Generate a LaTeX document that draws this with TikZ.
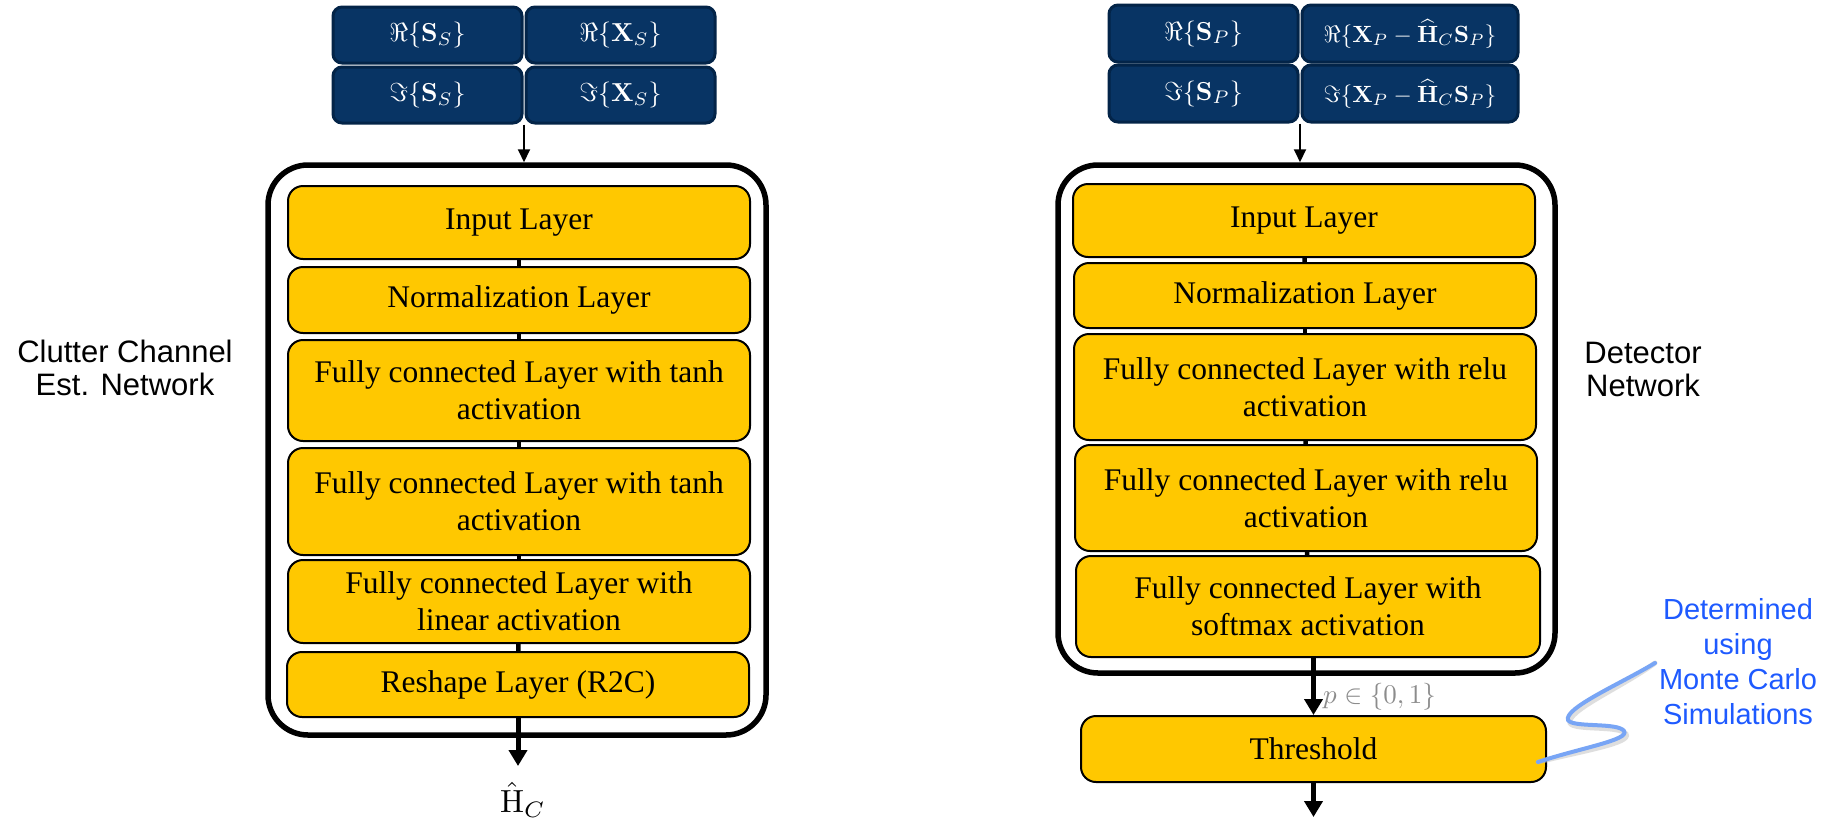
\documentclass[tikz,border=0pt]{standalone}
\usepackage[no-math]{fontspec}
\usepackage{graphicx}
\usepackage{amsmath}
\usetikzlibrary{arrows.meta,calc}
\newfontfamily\timesf{Liberation Serif}
\newfontfamily\arialf{Liberation Sans}
\definecolor{navy}{RGB}{8,52,100}
\definecolor{navyb}{RGB}{3,36,72}
\definecolor{ygold}{RGB}{255,200,0}
\definecolor{bluetxt}{RGB}{30,90,255}
\definecolor{curveblue}{RGB}{120,165,245}
\newcommand{\mbig}[2]{\scalebox{#1}{$#2$}}
\begin{document}
\begin{tikzpicture}[x=1pt,y=-1pt,
  layer/.style={draw=black, line width=2pt, fill=ygold, rounded corners=15pt, inner sep=0pt, align=center, font=\timesf\fontsize{31.5}{37}\selectfont},
  mbox/.style={draw=navyb, line width=3pt, fill=navy, rounded corners=9pt, text=white, inner sep=0pt},
  outerbox/.style={draw=black, line width=5.5pt, rounded corners=40pt, inner sep=0pt},
  spine/.style={line width=4.5pt},
  bigarrow/.style={line width=5pt, -{Triangle[width=18pt,length=16pt]}},
  smallarrow/.style={line width=2pt, -{Triangle[width=12pt,length=13pt]}},
  lbl/.style={font=\arialf\fontsize{31}{33}\selectfont, align=center}
]
\useasboundingbox (0,0) rectangle (1837,823);
\fill[white] (0,0) rectangle (1837,823);

% ---------------- left network ----------------
\node[mbox, minimum width=189pt, minimum height=56pt] (rsl) at (427.5,35) {\mbig{2.6}{\Re\{\mathbf{S}_S\}}};
\node[mbox, minimum width=189pt, minimum height=56pt] (rxl) at (620.5,35) {\mbig{2.6}{\Re\{\mathbf{X}_S\}}};
\node[mbox, minimum width=189pt, minimum height=56pt] (isl) at (427.5,95) {\mbig{2.6}{\Im\{\mathbf{S}_S\}}};
\node[mbox, minimum width=189pt, minimum height=56pt] (ixl) at (620.5,95) {\mbig{2.6}{\Im\{\mathbf{X}_S\}}};

\node[outerbox, minimum width=498pt, minimum height=570pt] (outL) at (517,450) {};

\node[layer, minimum width=462pt, minimum height=73pt] (in1) at (519,222.5) {Input Layer};
\node[layer, minimum width=462pt, minimum height=66pt] (norm1) at (519,300) {Normalization Layer};
\node[layer, minimum width=462pt, minimum height=101pt] (fca1) at (519,390.5) {Fully connected Layer with tanh\\activation};
\node[layer, minimum width=462pt, minimum height=107pt] (fcb1) at (519,501.5) {Fully connected Layer with tanh\\activation};
\node[layer, minimum width=462pt, minimum height=83pt] (lin1) at (519,601.5) {Fully connected Layer with\\linear activation};
\node[layer, minimum width=462pt, minimum height=65pt] (resh1) at (518,684.5) {Reshape Layer (R2C)};

\coordinate (gapL) at ($(isl.south east)!0.5!(ixl.south west)$);
\draw[smallarrow] (gapL) -- (gapL |- outL.north);
\draw[spine] (in1) -- (norm1);
\draw[spine] (norm1) -- (fca1);
\draw[spine] (fca1) -- (fcb1);
\draw[spine] (fcb1) -- (lin1);
\draw[spine] (lin1) -- (resh1);
\coordinate (endL) at (518,766);
\draw[bigarrow] (resh1.south) -- (endL);
\node (hc) at (523,800) {\mbig{3.2}{\hat{\mathrm{H}}_C}};

\node[lbl] (labL) at (125,368) {Clutter Channel\\Est. Network};

% ---------------- right network ----------------
\node[mbox, minimum width=189pt, minimum height=57pt] (rsr) at (1203.5,33.5) {\mbig{2.6}{\Re\{\mathbf{S}_P\}}};
\node[mbox, minimum width=216pt, minimum height=57pt] (rxr) at (1410,33.5) {\mbig{2.35}{\Re\{\mathbf{X}_P-\widehat{\mathbf{H}}_C\mathbf{S}_P\}}};
\node[mbox, minimum width=189pt, minimum height=57pt] (isr) at (1203.5,93.5) {\mbig{2.6}{\Im\{\mathbf{S}_P\}}};
\node[mbox, minimum width=216pt, minimum height=57pt] (ixr) at (1410,93.5) {\mbig{2.35}{\Im\{\mathbf{X}_P-\widehat{\mathbf{H}}_C\mathbf{S}_P\}}};

\node[outerbox, minimum width=497pt, minimum height=508pt] (outR) at (1306.5,419) {};

\node[layer, minimum width=462pt, minimum height=73pt] (in2) at (1304,220.5) {Input Layer};
\node[layer, minimum width=462pt, minimum height=65pt] (norm2) at (1305,295.5) {Normalization Layer};
\node[layer, minimum width=462pt, minimum height=106pt] (fca2) at (1305,387) {Fully connected Layer with relu\\activation};
\node[layer, minimum width=462pt, minimum height=106pt] (fcb2) at (1306,498) {Fully connected Layer with relu\\activation};
\node[layer, minimum width=464pt, minimum height=101pt] (soft2) at (1308,606.5) {Fully connected Layer with\\softmax activation};
\node[layer, minimum width=465pt, minimum height=66pt] (thr) at (1313.5,749) {Threshold};

\coordinate (gapR) at ($(isr.south east)!0.5!(ixr.south west)$);
\draw[smallarrow] (gapR) -- (gapR |- outR.north);
\draw[spine] (in2) -- (norm2);
\draw[spine] (norm2) -- (fca2);
\draw[spine] (fca2) -- (fcb2);
\draw[spine] (fcb2) -- (soft2);
\draw[bigarrow] (soft2.south -| thr.north) -- (thr.north);
\node[anchor=west, text=black!45, inner sep=0pt] (plab) at (1323,697) {\mbig{2.7}{p\in\{0,1\}}};
\coordinate (endR) at (1313.5,817);
\draw[bigarrow] (thr.south) -- (endR);

\node[lbl] (labR) at (1643,369) {Detector\\Network};

% ---------------- annotation ----------------
\node[font=\arialf\fontsize{29}{35}\selectfont, text=bluetxt, align=center] (mc) at (1738,662) {Determined\\using\\Monte Carlo\\Simulations};
\coordinate (cs) at (1538,762);
\coordinate (ce) at (1655,663);
\draw[black!25, line width=5pt, line cap=round, opacity=0.5, shift={(2pt,-3pt)}]
  (cs) .. controls (1580,748) and (1630,740) .. (1624,731)
  .. controls (1618,722) and (1572,728) .. (1568,720)
  .. controls (1564,708) and (1620,684) .. (ce);
\draw[curveblue, line width=4pt, line cap=round]
  (cs) .. controls (1580,748) and (1630,740) .. (1624,731)
  .. controls (1618,722) and (1572,728) .. (1568,720)
  .. controls (1564,708) and (1620,684) .. (ce);
\end{tikzpicture}
\end{document}
